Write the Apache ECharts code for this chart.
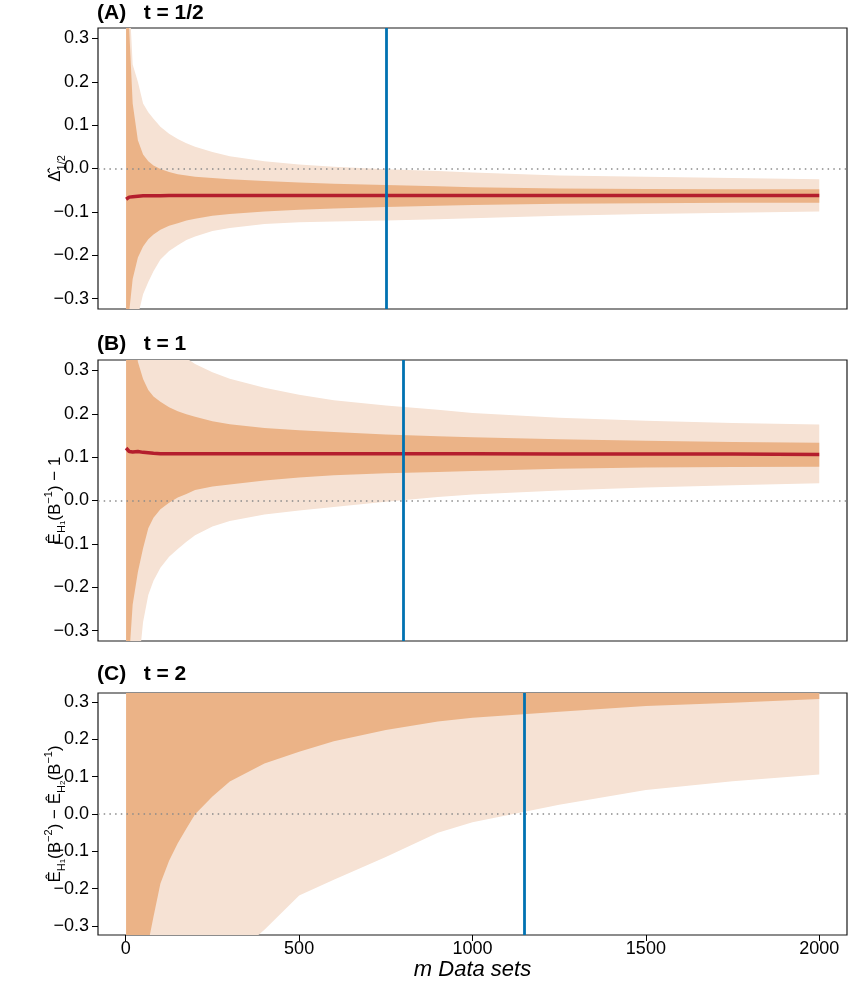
<!DOCTYPE html>
<html>
<head>
<meta charset="utf-8">
<script src="https://cdn.jsdelivr.net/npm/echarts@6/dist/echarts.min.js"></script>
<style>
  html, body { margin: 0; padding: 0; background: #fff; }
  #chart { width: 857px; height: 997px; }
</style>
</head>
<body>
<div id="chart"></div>
<script>
// number of data sets at which the bands were read
const xs = [1, 10, 20, 35, 50, 65, 80, 100, 125, 150, 175, 200, 250, 300, 400, 500, 600, 750, 900, 1000, 1250, 1500, 1750, 2000]

// (A) t = 1/2
const aLightLo = [-2.0, -0.7, -0.48, -0.34, -0.29, -0.262, -0.237, -0.210, -0.190, -0.177, -0.165, -0.157, -0.144, -0.137, -0.128, -0.124, -0.122, -0.120, -0.117, -0.115, -0.109, -0.105, -0.102, -0.099]
const aLightHi = [1.5, 0.40, 0.24, 0.20, 0.150, 0.130, 0.115, 0.096, 0.080, 0.068, 0.058, 0.050, 0.038, 0.028, 0.017, 0.009, 0.004, -0.002, -0.006, -0.009, -0.016, -0.019, -0.022, -0.025]
const aDarkLo = [-1.0, -0.33, -0.255, -0.205, -0.180, -0.163, -0.152, -0.141, -0.132, -0.126, -0.120, -0.116, -0.109, -0.105, -0.099, -0.095, -0.092, -0.089, -0.086, -0.084, -0.081, -0.080, -0.079, -0.079]
const aDarkHi = [1.0, 0.32, 0.15, 0.065, 0.032, 0.017, 0.007, -0.001, -0.008, -0.013, -0.016, -0.019, -0.022, -0.025, -0.029, -0.032, -0.035, -0.038, -0.041, -0.043, -0.046, -0.047, -0.048, -0.048]
const aMean = [-0.071, -0.066, -0.065, -0.064, -0.063, -0.063, -0.063, -0.063, -0.062, -0.062, -0.062, -0.062, -0.062, -0.062, -0.062, -0.062, -0.062, -0.062, -0.062, -0.062, -0.062, -0.062, -0.062, -0.062]

// (B) t = 1
const bLightLo = [-3.0, -1.0, -0.6, -0.40, -0.28, -0.218, -0.185, -0.155, -0.130, -0.112, -0.095, -0.080, -0.060, -0.047, -0.032, -0.023, -0.015, -0.003, 0.008, 0.014, 0.023, 0.030, 0.035, 0.040]
const bLightHi = [3.0, 1.3, 0.95, 0.72, 0.60, 0.52, 0.47, 0.42, 0.38, 0.35, 0.328, 0.315, 0.296, 0.281, 0.260, 0.244, 0.231, 0.219, 0.209, 0.202, 0.191, 0.184, 0.179, 0.175]
const bDarkLo = [-1.5, -0.36, -0.24, -0.165, -0.11, -0.064, -0.040, -0.020, -0.005, 0.007, 0.015, 0.024, 0.032, 0.037, 0.046, 0.053, 0.058, 0.063, 0.066, 0.068, 0.073, 0.076, 0.077, 0.078]
const bDarkHi = [2.0, 0.7, 0.45, 0.32, 0.28, 0.255, 0.240, 0.228, 0.215, 0.206, 0.199, 0.193, 0.183, 0.176, 0.167, 0.162, 0.158, 0.152, 0.148, 0.146, 0.141, 0.138, 0.135, 0.133]
const bMean = [0.121, 0.113, 0.112, 0.113, 0.111, 0.110, 0.109, 0.108, 0.108, 0.108, 0.108, 0.108, 0.108, 0.108, 0.108, 0.108, 0.108, 0.108, 0.108, 0.108, 0.107, 0.107, 0.107, 0.106]

// (C) t = 2  (upper edges lie above the plotted range)
const cLightLo = [-5, -3, -2.2, -1.6, -1.3, -1.1, -0.95, -0.82, -0.70, -0.62, -0.56, -0.51, -0.44, -0.39, -0.31, -0.218, -0.176, -0.115, -0.050, -0.022, 0.025, 0.064, 0.088, 0.106]
const cLightHi = [5.0, 2.5, 2.0, 1.6, 1.4, 1.3, 1.2, 1.1, 1.0, 0.95, 0.9, 0.86, 0.8, 0.76, 0.7, 0.66, 0.63, 0.6, 0.58, 0.57, 0.55, 0.53, 0.52, 0.51]
const cDarkLo = [-2.0, -1.2, -0.8, -0.55, -0.42, -0.345, -0.275, -0.186, -0.125, -0.078, -0.039, -0.001, 0.047, 0.087, 0.135, 0.167, 0.195, 0.225, 0.248, 0.258, 0.274, 0.289, 0.298, 0.308]
const cDarkHi = [3.0, 1.5, 1.1, 0.9, 0.8, 0.75, 0.7, 0.65, 0.62, 0.6, 0.58, 0.56, 0.54, 0.52, 0.5, 0.49, 0.48, 0.47, 0.46, 0.45, 0.44, 0.43, 0.42, 0.41]

// vertical marker per panel
const markerX = [750, 800, 1150]

// axes
const yTicks = [-0.3, -0.2, -0.1, 0, 0.1, 0.2, 0.3]
const xTicks = [0, 500, 1000, 1500, 2000]
const yMin = -0.324, yMax = 0.324
const xMin = -80, xMax = 2080

const titles = ['(A)   t = 1/2', '(B)   t = 1', '(C)   t = 2']
const yNames = [
  '{m|\u0394\u0302}{s|1/2}',
  '{m|E\u0302}{s|H}{ss|1}{m|(B}{p|\u22121}{m|) \u2212 1}',
  '{m|E\u0302}{s|H}{ss|1}{m|(B}{p|\u22122}{m|) \u2212 E\u0302}{s|H}{ss|2}{m|(B}{p|\u22121}{m|)}'
]

const FONT = 'Liberation Sans, Arial, sans-serif'
const LIGHT = '#F6E2D4'
const DARK = '#EBB387'
const RED = '#B41E2D'
const BLUE = '#0072B2'

const grids = [
  { left: 98, right: 10, top: 28, height: 281 },
  { left: 98, right: 10, top: 360, height: 281 },
  { left: 98, right: 10, top: 693, height: 242 }
]
const titleTops = [3, 334, 664]

const bands = [
  [aLightLo, aLightHi, aDarkLo, aDarkHi],
  [bLightLo, bLightHi, bDarkLo, bDarkHi],
  [cLightLo, cLightHi, cDarkLo, cDarkHi]
]
const means = [aMean, bMean, null]

const fmt = v => (v === 0 ? '0.0' : v.toFixed(1).replace('-', '\u2212'))

const nameRich = {
  m: { fontSize: 17, lineHeight: 24, fontFamily: FONT, color: '#000' },
  s: { fontSize: 11, lineHeight: 11, verticalAlign: 'bottom', fontFamily: FONT, color: '#000' },
  ss: { fontSize: 8, lineHeight: 8, verticalAlign: 'bottom', fontFamily: FONT, color: '#000' },
  p: { fontSize: 11, lineHeight: 11, verticalAlign: 'top', fontFamily: FONT, color: '#000' }
}

const bandSeries = (idx, lo, hi, color, z) => ({
  type: 'custom',
  xAxisIndex: idx,
  yAxisIndex: idx,
  clip: true,
  silent: true,
  z: z,
  data: xs.map((x, k) => [x, lo[k], hi[k]]),
  encode: { x: 0, y: [1, 2] },
  renderItem: function (params, api) {
    if (params.dataIndex !== 0) return null
    const n = params.dataInsideLength
    const bottom = []
    const top = []
    for (let k = 0; k < n; k++) {
      bottom.push(api.coord([api.value(0, k), api.value(1, k)]))
      top.push(api.coord([api.value(0, k), api.value(2, k)]))
    }
    return {
      type: 'polygon',
      shape: { points: bottom.concat(top.reverse()) },
      style: { fill: color, stroke: null }
    }
  }
})

const xAxes = grids.map((g, i) => ({
  type: 'value',
  gridIndex: i,
  min: xMin,
  max: xMax,
  axisLine: { show: false, onZero: false },
  splitLine: { show: false },
  axisTick: {
    show: i === 2,
    customValues: xTicks,
    length: 6,
    lineStyle: { color: '#000', width: 1 }
  },
  axisLabel: {
    show: i === 2,
    customValues: xTicks,
    margin: 5,
    fontSize: 18,
    fontFamily: FONT,
    color: '#000',
    formatter: v => String(v)
  },
  name: i === 2 ? 'm Data sets' : '',
  nameLocation: 'middle',
  nameGap: 24,
  nameMoveOverlap: false,
  nameTextStyle: { fontSize: 22, fontStyle: 'italic', fontFamily: FONT, color: '#000' }
}))

const yAxes = grids.map((g, i) => ({
  type: 'value',
  gridIndex: i,
  min: yMin,
  max: yMax,
  axisLine: { show: false, onZero: false },
  splitLine: { show: false },
  axisTick: {
    show: true,
    customValues: yTicks,
    length: 6,
    lineStyle: { color: '#000', width: 1 }
  },
  axisLabel: {
    customValues: yTicks,
    margin: 9,
    fontSize: 18,
    fontFamily: FONT,
    color: '#000',
    formatter: fmt
  },
  name: yNames[i],
  nameLocation: 'middle',
  nameRotate: 90,
  nameGap: 31,
  nameMoveOverlap: false,
  nameTextStyle: { rich: nameRich }
}))

const series = []
grids.forEach((g, i) => {
  const [lightLo, lightHi, darkLo, darkHi] = bands[i]
  series.push(bandSeries(i, lightLo, lightHi, LIGHT, 1))
  series.push(bandSeries(i, darkLo, darkHi, DARK, 2))
  const mean = means[i]
  series.push({
    type: 'line',
    xAxisIndex: i,
    yAxisIndex: i,
    z: 3,
    silent: true,
    symbol: 'none',
    clip: true,
    data: mean ? xs.map((x, k) => [x, mean[k]]) : [],
    lineStyle: { color: RED, width: 3.5 },
    markLine: {
      silent: true,
      symbol: 'none',
      label: { show: false },
      animation: false,
      data: [
        { yAxis: 0, lineStyle: { color: '#8a8a8a', width: 1.5, type: [1.5, 4.2] } },
        { xAxis: markerX[i], lineStyle: { color: BLUE, width: 2.8, type: 'solid' } }
      ]
    }
  })
})

const chart = echarts.init(document.getElementById('chart'))
chart.setOption({
  animation: false,
  backgroundColor: '#fff',
  textStyle: { fontFamily: FONT },
  title: titles.map((t, i) => ({
    text: t,
    left: 97,
    top: titleTops[i],
    padding: 0,
    textStyle: { fontSize: 21, fontWeight: 'bold', color: '#000', fontFamily: FONT }
  })),
  grid: grids.map(g => Object.assign({ show: true, borderColor: '#1a1a1a', borderWidth: 1.2, backgroundColor: 'transparent' }, g)),
  xAxis: xAxes,
  yAxis: yAxes,
  series: series
})
</script>
</body>
</html>
